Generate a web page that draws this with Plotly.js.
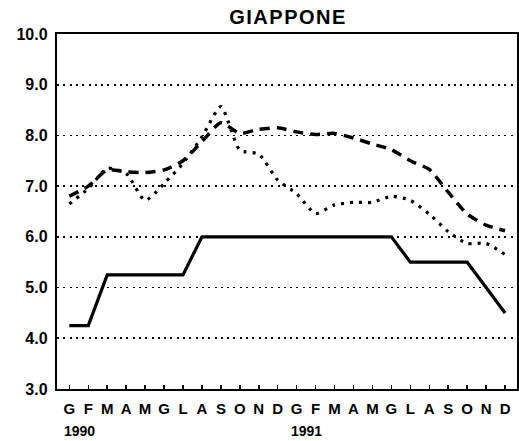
<!DOCTYPE html>
<html>
<head>
<meta charset="utf-8">
<script src="https://cdn.plot.ly/plotly-3.0.1.min.js"></script>
<style>
  html, body { margin: 0; padding: 0; background: #fff; }
  #chart { width: 519px; height: 441px; }
  .gtitle { letter-spacing: 1.5px; }
</style>
</head>
<body>
<div id="chart"></div>
<script>
// Month initials (Italian), two years
const months = ["G","F","M","A","M","G","L","A","S","O","N","D",
                "G","F","M","A","M","G","L","A","S","O","N","D"];
const yearLabels = ["1990", "1991"];
const yearStartIndex = [0, 12];

// Solid line (official discount rate)
const seriesSolid = [4.25,4.25,5.25,5.25,5.25,5.25,5.25,6.0,6.0,6.0,6.0,6.0,
                     6.0,6.0,6.0,6.0,6.0,6.0,5.5,5.5,5.5,5.5,5.0,4.5];
// Dashed line
const seriesDashed = [6.8,7.0,7.32,7.28,7.27,7.32,7.5,7.88,8.25,8.04,8.12,8.15,
                      8.07,8.02,8.04,7.95,7.83,7.72,7.5,7.33,6.88,6.45,6.23,6.12];
// Dotted line
const seriesDotted = [6.65,6.95,7.35,7.25,6.72,7.05,7.45,7.97,8.57,7.71,7.63,7.12,
                      6.85,6.46,6.63,6.68,6.68,6.8,6.72,6.45,6.1,5.87,5.87,5.65];

const yTicks = [3,4,5,6,7,8,9,10];

const xIdx = months.map((_, i) => i);

const traces = [
  { x: xIdx, y: seriesDotted, mode: "lines", line: { color: "#000", width: 3.2, dash: "3px,6px", shape: "spline", smoothing: 0.6 } },
  { x: xIdx, y: seriesDashed, mode: "lines", line: { color: "#000", width: 3.5, dash: "10px,7px", shape: "spline", smoothing: 0.6 } },
  { x: xIdx, y: seriesSolid, mode: "lines", line: { color: "#000", width: 3.2 } }
];

const annotations = yearLabels.map((t, k) => ({
  text: t, xref: "x", yref: "paper", x: yearStartIndex[k] - 0.38, y: -0.118,
  xanchor: "left", yanchor: "middle", showarrow: false,
  font: { family: "Liberation Sans, Arial, sans-serif", size: 14, color: "#000", weight: "bold" }
}));

const layout = {
  width: 519, height: 441,
  margin: { l: 57, r: 2, t: 34, b: 52 },
  paper_bgcolor: "#fff", plot_bgcolor: "#fff",
  showlegend: false,
  title: {
    text: "GIAPPONE", x: 0.555, xanchor: "center", y: 0.962, yanchor: "middle",
    font: { family: "Liberation Sans, Arial, sans-serif", size: 20, color: "#000", weight: "bold" }
  },
  xaxis: {
    range: [-0.65, 23.63],
    tickmode: "array", tickvals: xIdx, ticktext: months,
    ticks: "inside", ticklen: 4, tickwidth: 1.5, tickcolor: "#000",
    ticklabelstandoff: 5,
    showgrid: false, zeroline: false,
    showline: true, linecolor: "#000", linewidth: 2.2, mirror: true,
    tickfont: { family: "Liberation Sans, Arial, sans-serif", size: 15, color: "#000", weight: "bold" }
  },
  yaxis: {
    range: [3, 10],
    tickmode: "array", tickvals: yTicks, ticktext: yTicks.map(v => v.toFixed(1)),
    ticks: "", ticklabelstandoff: 4,
    showgrid: true, gridcolor: "#000", gridwidth: 1.6, griddash: "2px,4.3px",
    zeroline: false,
    showline: true, linecolor: "#000", linewidth: 2.2, mirror: true,
    tickfont: { family: "Liberation Sans, Arial, sans-serif", size: 16, color: "#000", weight: "bold" }
  },
  annotations: annotations
};

Plotly.newPlot("chart", traces, layout, { staticPlot: true, displayModeBar: false });
</script>
</body>
</html>
